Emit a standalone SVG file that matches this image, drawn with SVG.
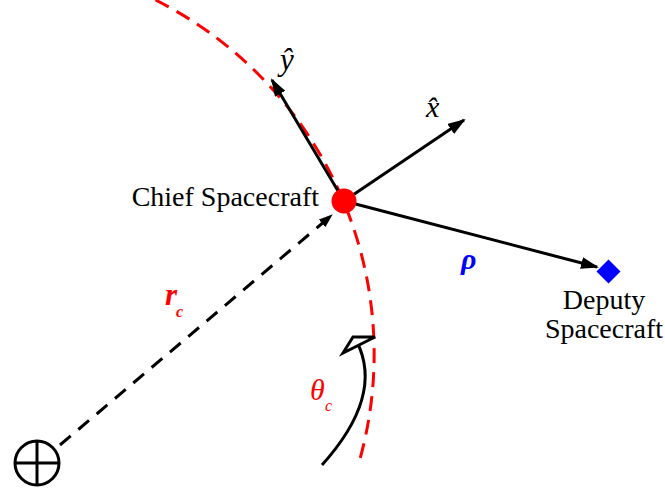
<svg xmlns="http://www.w3.org/2000/svg" width="665" height="497" viewBox="0 0 665 497">
<style>
.t{font-family:"Liberation Serif","Times New Roman",serif;fill:#000}
.it{font-style:italic}
.ln{stroke:#000;stroke-width:3;fill:none}
.dash{stroke:#000;stroke-width:3;fill:none;stroke-dasharray:14 10}
.orbit{stroke:#f00;stroke-width:3;fill:none;stroke-dasharray:15 9}
</style>
<defs>
<marker id="ah" markerUnits="userSpaceOnUse" markerWidth="18" markerHeight="12" refX="16" refY="6" orient="auto">
<path d="M0,0 L18,6 L0,12 Z" fill="#000"/>
</marker>
<marker id="ahs" markerUnits="userSpaceOnUse" markerWidth="14" markerHeight="10" refX="13" refY="5" orient="auto">
<path d="M0,0 L14,5 L0,10 Z" fill="#000"/>
</marker>
</defs>
<g id="orbit">
<path class="orbit" d="M155.5,0 A396,396 0 0,1 358,466"/>
</g>
<g id="connectors">
<line class="ln" x1="344" y1="201" x2="272" y2="80" marker-end="url(#ah)"/>
<line class="ln" x1="344" y1="201" x2="464" y2="120" marker-end="url(#ah)"/>
<line class="ln" x1="344" y1="201" x2="597" y2="267" marker-end="url(#ah)"/>
<line class="dash" x1="60" y1="445" x2="332" y2="215" marker-end="url(#ahs)"/>
<path class="ln" d="M322,465 Q384,396 357,342"/>
<polygon points="353,337 375,337 343,353" fill="#fff" stroke="#000" stroke-width="3" stroke-linejoin="miter"/>
</g>
<g id="earth">
<circle cx="37" cy="463" r="22" class="ln"/>
<line class="ln" x1="15" y1="463" x2="59" y2="463"/>
<line class="ln" x1="37" y1="441" x2="37" y2="485"/>
</g>
<g id="chief">
<circle cx="344" cy="201" r="12.5" fill="#f00"/>
<text class="t" x="319" y="206" font-size="28" text-anchor="end">Chief Spacecraft</text>
</g>
<g id="deputy">
<rect x="600" y="263" width="17" height="17" fill="#00f" transform="rotate(45 608.5 271.5)"/>
<text class="t" x="604" y="309" font-size="28" text-anchor="middle">Deputy</text>
<text class="t" x="604" y="338" font-size="28" text-anchor="middle">Spacecraft</text>
</g>
<g id="labels">
<text class="t it" x="280" y="70" font-size="31">ŷ</text>
<text class="t it" x="426" y="117" font-size="30">x̂</text>
<text class="t it" x="461" y="269" font-size="30" font-weight="bold" style="fill:#00f">ρ</text>
<text class="t it" x="165" y="305" font-size="31" font-weight="bold" style="fill:#f00">r</text>
<text class="t it" x="176" y="317" font-size="16" font-weight="bold" style="fill:#f00">c</text>
<text class="t it" x="310" y="400" font-size="30" style="fill:#f00">θ</text>
<text class="t it" x="325" y="411" font-size="16" style="fill:#f00">c</text>
</g>
</svg>
